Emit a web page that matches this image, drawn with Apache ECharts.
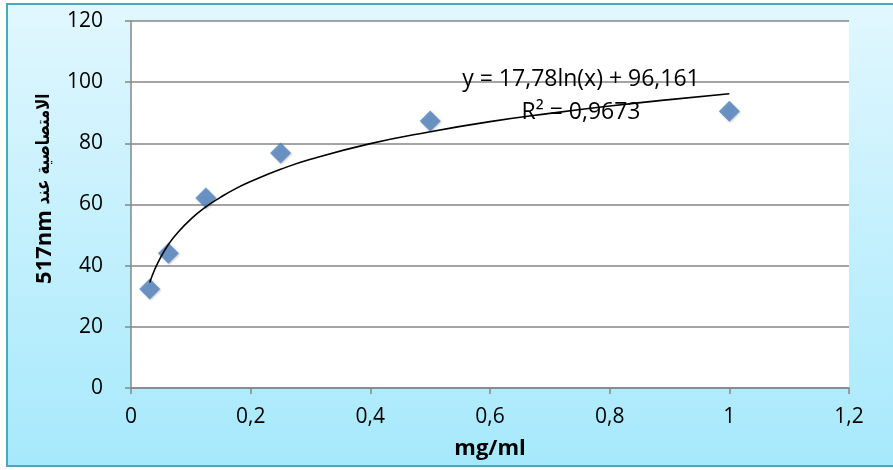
<!DOCTYPE html>
<html><head><meta charset="utf-8">
<script src="https://cdn.jsdelivr.net/npm/echarts@6/dist/echarts.min.js"></script>
<style>html,body{margin:0;padding:0;background:#fff}#c{width:893px;height:470px}</style>
</head><body><div id="c"></div>
<script>
// Data
const concentrations = [0.03125, 0.0625, 0.125, 0.25, 0.5, 1];
const absorbance = [32.4, 44.1, 62.1, 76.8, 87.3, 90.5];
// Logarithmic trendline as drawn in the picture (values read at these x positions)
const trendX = [0.03125, 0.04, 0.05, 0.0625, 0.075, 0.1, 0.125, 0.15, 0.175, 0.2, 0.25, 0.3, 0.4, 0.5, 0.6, 0.7, 0.8, 0.9, 1.0];
const trendY = [34.5, 38.9, 42.9, 46.9, 50.1, 55.2, 59.2, 62.4, 65.2, 67.5, 71.5, 74.8, 79.9, 83.8, 87.1, 89.8, 92.2, 94.3, 96.2];
const xTicks = {min: 0, max: 1.2, step: 0.2};
const yTicks = {min: 0, max: 120, step: 20};
const xTitle = 'mg/ml';
const yTitleArabic = 'الامتصاصية عند';
const yTitleUnit = '517nm';
const eqLine1 = 'y = 17,78ln(x) + 96,161';
const eqLine2 = 'R² = 0,9673';

const FONT = '"Open Sans", "DejaVu Sans", sans-serif';
const chart = echarts.init(document.getElementById('c'), null, {renderer: 'canvas'});
const fmt = v => String(+v.toFixed(1)).replace('.', ',');

chart.setOption({
  backgroundColor: '#ffffff',
  animation: false,
  graphic: [
    {type: 'rect', z: -10, shape: {x: 7, y: 4, width: 900, height: 462},
     style: {fill: new echarts.graphic.LinearGradient(0, 0, 0, 1, [
        {offset: 0, color: '#e1f7fe'}, {offset: 1, color: '#a6e9fc'}]),
       stroke: '#4ba6c0', lineWidth: 2}},
    {type: 'text', x: 45, y: 247, rotation: Math.PI / 2, z: 10,
     style: {text: yTitleUnit, font: 'bold 22px ' + FONT, fill: '#000', align: 'center', verticalAlign: 'middle'}},
    {type: 'text', x: 44, y: 149, rotation: Math.PI / 2, scaleX: 0.78, z: 10,
     style: {text: yTitleArabic, font: 'bold 19px "DejaVu Sans", sans-serif', fill: '#000', align: 'center', verticalAlign: 'middle'}},
    {type: 'text', x: 581, y: 79, z: 10,
     style: {text: eqLine1, font: '23px ' + FONT, fill: '#000', align: 'center', verticalAlign: 'middle'}},
    {type: 'text', x: 581, y: 112, z: 10,
     style: {text: eqLine2, font: '23px ' + FONT, fill: '#000', align: 'center', verticalAlign: 'middle'}}
  ],
  grid: {left: 131, right: 44, top: 21, bottom: 82, show: true, backgroundColor: '#ffffff', borderWidth: 0},
  xAxis: {
    type: 'value', min: xTicks.min, max: xTicks.max, interval: xTicks.step,
    name: xTitle, nameLocation: 'middle', nameGap: 50,
    nameTextStyle: {fontFamily: FONT, fontWeight: 'bold', fontSize: 22, color: '#000'},
    axisLine: {show: true, lineStyle: {color: '#868686', width: 1.5}},
    axisTick: {show: true, length: 6, lineStyle: {color: '#868686', width: 1.5}},
    axisLabel: {margin: 19, fontFamily: FONT, fontSize: 21, color: '#000', formatter: fmt},
    splitLine: {show: false}
  },
  yAxis: {
    type: 'value', min: yTicks.min, max: yTicks.max, interval: yTicks.step,
    axisLine: {show: true, lineStyle: {color: '#868686', width: 1.5}},
    axisTick: {show: true, length: 6, lineStyle: {color: '#868686', width: 1.5}},
    axisLabel: {margin: 28, fontFamily: FONT, fontSize: 21, color: '#000'},
    splitLine: {show: true, lineStyle: {color: '#868686', width: 1.5}}
  },
  series: [
    {type: 'line', data: trendX.map((x, i) => [x, trendY[i]]), smooth: true, showSymbol: false,
     lineStyle: {color: '#000', width: 1.6}, z: 3},
    {type: 'scatter', data: concentrations.map((x, i) => [x, absorbance[i]]), symbol: 'diamond', symbolSize: 21,
     itemStyle: {color: '#4f81bd', shadowColor: 'rgba(0,0,0,0.25)', shadowBlur: 2, shadowOffsetX: 1, shadowOffsetY: 1}, z: 2}
  ]
});
</script></body></html>
